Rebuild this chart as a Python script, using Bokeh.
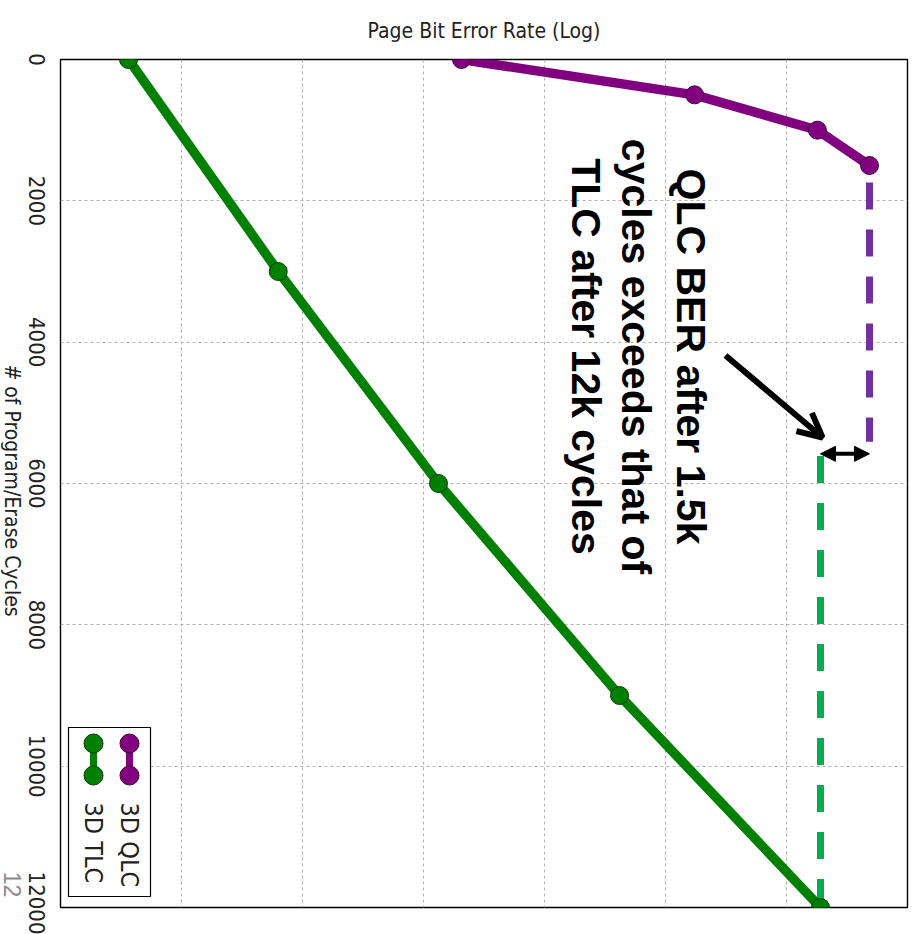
import math
from bokeh.plotting import figure
from bokeh.layouts import row
from bokeh.models import Range1d, FixedTicker, Label, Arrow, NormalHead, OpenHead
from bokeh.core.properties import value
from bokeh.embed import file_html
from bokeh.resources import INLINE

# ---------------- data ----------------
cycles_tlc = [0, 3000, 6000, 9000, 12000]
ber_tlc = [3.65e-9, 6.3e-8, 1.33e-6, 4.17e-5, 1.91e-3]
cycles_qlc = [0, 500, 1000, 1500]
ber_qlc = [2.06e-6, 1.74e-4, 1.80e-3, 4.85e-3]
cycle_ticks = [0, 2000, 4000, 6000, 8000, 10000, 12000]
ber_grid = [1e-8, 1e-7, 1e-6, 1e-5, 1e-4, 1e-3]
legend_names = ["3D QLC", "3D TLC"]
annotation_lines = ["QLC BER after 1.5k", "cycles exceeds that of", "TLC after 12k cycles"]
y_axis_title = "# of Program/Erase Cycles"
slide_number = "12"
qlc_dash_cycles = [1740, 5410]
tlc_dash_cycles = [5610, 12000]
gap_arrow_cycle = 5580

# ---------------- layout helpers (annotation placement only) ----------------
W, H = 913, 934
FL, FT, FW, FH = 60, 59, 847, 848
FB = H - FT - FH
SIDE_W = 58          # left strip: axis title + cycle tick labels
SIDE_FRAME = 22      # part of the strip holding the axis title
def bx(px):
    return 10 ** (-9 + 7 * (px - FL) / FW)
def cy(py):
    return 12000 * (py - FT) / FH

GREEN = "#008000"
PURPLE = "#800080"
CW = -math.pi / 2
SANS = "'DejaVu Sans Condensed', 'DejaVu Sans'"

# ---------------- main plot ----------------
p = figure(frame_width=FW, frame_height=FH, x_axis_type="log",
           x_range=Range1d(1e-9, 1e-2), y_range=Range1d(12000, 0),
           output_backend="svg", toolbar_location=None,
           min_border_left=FL - SIDE_W, min_border_right=W - FL - FW, min_border_top=FT,
           min_border_bottom=FB, title="Page Bit Error Rate (Log)")
p.background_fill_color = "white"
p.border_fill_color = "white"
p.outline_line_color = "black"
p.outline_line_width = 1.4

p.title.align = "center"
p.title.text_font = SANS
p.title.text_font_style = "normal"
p.title.text_font_size = "21px"
p.title.text_color = "#222222"
p.title.standoff = 33

for g in (p.xgrid, p.ygrid):
    g.grid_line_color = "#b0b0b0"
    g.grid_line_dash = "3 3"
    g.grid_line_width = 1

p.xaxis[0].ticker = FixedTicker(ticks=ber_grid)
p.xaxis[0].visible = False
p.yaxis[0].ticker = FixedTicker(ticks=cycle_ticks)
p.yaxis[0].visible = False

# dashed guides
p.line([ber_qlc[-1]] * 2, qlc_dash_cycles, line_width=7, color="#7030a0", line_dash="27 20")
p.line([ber_tlc[-1]] * 2, tlc_dash_cycles, line_width=7, color="#00b050", line_dash="27 20")

# series
p.line(ber_tlc, cycles_tlc, line_width=9.5, color=GREEN)
p.scatter(ber_tlc, cycles_tlc, size=18, fill_color=GREEN, line_color="#0a3a0a", line_width=1)
p.line(ber_qlc, cycles_qlc, line_width=9.5, color=PURPLE)
p.scatter(ber_qlc, cycles_qlc, size=18, fill_color=PURPLE, line_color="#3a0a3a", line_width=1)

# arrows
p.add_layout(Arrow(start=NormalHead(size=15, fill_color="black", line_color="black"),
                   end=NormalHead(size=15, fill_color="black", line_color="black"),
                   x_start=ber_tlc[-1], x_end=ber_qlc[-1],
                   y_start=gap_arrow_cycle, y_end=gap_arrow_cycle, line_width=4))
p.add_layout(Arrow(end=OpenHead(size=24, line_width=6, line_color="black"),
                   x_start=bx(725), y_start=cy(355), x_end=bx(822), y_end=cy(437),
                   line_width=6, line_color="black"))

# annotation text
for txt, px in zip(annotation_lines, [690, 635, 585]):
    p.add_layout(Label(x=bx(px), y=cy(356), text=txt, angle=CW,
                       text_align="center", text_baseline="middle",
                       text_font="Liberation Sans", text_font_style="bold",
                       text_font_size="41px", text_color="black"))

# legend (drawn manually, rotated)
p.quad(left=[bx(68)], right=[bx(150)], top=[cy(727)], bottom=[cy(896)],
       fill_color="white", line_color="black", line_width=1.2)
for name, col, edge, px in zip(legend_names, [PURPLE, GREEN], ["#3a0a3a", "#0a3a0a"], [129, 93]):
    p.line([bx(px)] * 2, [cy(743), cy(775)], line_width=7, color=col)
    p.scatter([bx(px)] * 2, [cy(743), cy(775)], size=19, fill_color=col, line_color=edge)
    p.add_layout(Label(x=bx(px), y=cy(802), text=name, angle=CW,
                       text_align="left", text_baseline="middle",
                       text_font=SANS, text_font_size="25px",
                       text_color="#222222"))

# ---------------- left strip: axis title + cycle axis (labels read top-to-bottom) ----------------
side = figure(width=SIDE_W, height=H, x_range=Range1d(0, SIDE_FRAME), y_range=p.y_range,
              min_border_left=0, min_border_right=SIDE_W - SIDE_FRAME,
              min_border_top=FT, min_border_bottom=FB,
              x_axis_location=None, y_axis_location="right",
              output_backend="svg", toolbar_location=None)
side.grid.visible = False
side.outline_line_color = None
side.background_fill_color = "white"
side.border_fill_color = "white"

sa = side.yaxis[0]
sa.ticker = FixedTicker(ticks=cycle_ticks)
sa.major_label_orientation = "parallel"
sa.major_label_text_font = SANS
sa.major_label_text_font_size = "22px"
sa.major_label_text_color = "#222222"
sa.major_label_standoff = 6
sa.major_tick_in = 0
sa.major_tick_out = 0
sa.minor_tick_in = 0
sa.minor_tick_out = 0
sa.major_tick_line_color = None
sa.minor_tick_line_color = None
sa.axis_line_color = None

side.text(x=[11], y=[cy(490)], text=[y_axis_title], angle=CW,
          text_align="center", text_baseline="middle", text_font=value(SANS),
          text_font_size="21px", text_color="#222222")
side.text(x=[12], y=[cy(884)], text=[slide_number], angle=CW,
          text_align="center", text_baseline="middle", text_font=value("Liberation Sans"),
          text_font_size="23px", text_color="#8a8a8a")

layout = row(side, p, spacing=0)
open("out.html", "w").write(file_html(layout, INLINE))
